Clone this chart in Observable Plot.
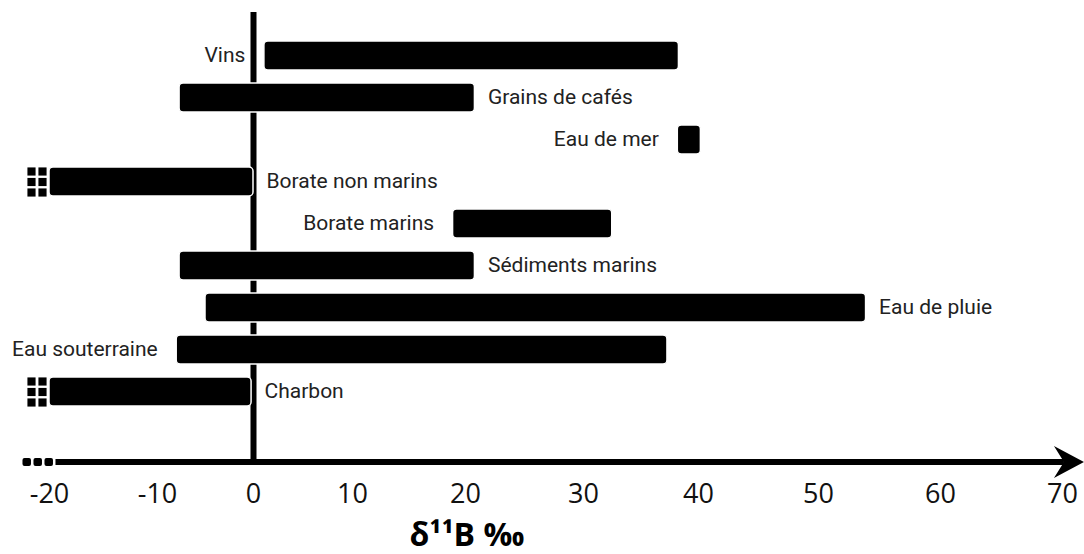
<!DOCTYPE html>
<html>
<head>
<meta charset="utf-8">
<script src="https://cdn.jsdelivr.net/npm/d3@7"></script>
<script src="https://cdn.jsdelivr.net/npm/@observablehq/plot@0.6"></script>
<style>
  html, body { margin: 0; padding: 0; background: #fff; }
  #chart svg { display: block; }
</style>
</head>
<body>
<div id="chart"></div>
<script>
// ---- data ----
const categories = ["Vins", "Grains de cafés", "Eau de mer", "Borate non marins", "Borate marins",
  "Sédiments marins", "Eau de pluie", "Eau souterraine", "Charbon"];
const minValues = [1.1, -7.7, 38.2, -20, 18.9, -7.7, -5.0, -8.0, -20];
const maxValues = [38.3, 20.8, 40.2, 0, 32.5, 20.8, 53.9, 37.3, -0.2];
const labelSides = ["left", "right", "left", "right", "left", "right", "right", "left", "right"];
const extendsBeyond = [false, false, false, true, false, false, false, false, true];
const tickValues = [-20, -10, 0, 10, 20, 30, 40, 50, 60, 70];
const tickPixels = [49, 157, 253, 352, 465, 583, 698, 818, 940, 1062]; // hand-placed axis labels in the original
const axisLabel = "δ¹¹B ‰";
const axisFrom = -19.4, axisTo = 71.8;

const rows = categories.map((c, i) => ({
  cat: c, lo: minValues[i], hi: maxValues[i], side: labelSides[i], open: extendsBeyond[i]
}));
const openRows = rows.filter(d => d.open);

const labelFont = "Roboto, 'Liberation Sans', sans-serif";

function axisArrow(index, scales, values, dims) {
  const x = scales.x;
  const g = d3.create("svg:g");
  const y0 = dims.height - dims.marginBottom;
  const xs = x(axisFrom), xe = x(axisTo);
  g.append("line")
    .attr("x1", xs).attr("x2", xe - 20)
    .attr("y1", y0).attr("y2", y0)
    .attr("stroke", "black").attr("stroke-width", 6);
  g.append("path")
    .attr("d", `M${xe},${y0} L${xe - 30},${y0 - 16} L${xe - 20},${y0} L${xe - 30},${y0 + 16} Z`)
    .attr("fill", "black");
  [-29, -18, -7].forEach(o => {
    g.append("rect")
      .attr("x", xs + o - 4).attr("y", y0 - 4)
      .attr("width", 8.5).attr("height", 8)
      .attr("rx", 2).attr("fill", "black");
  });
  return g.node();
}

const squareOffsets = [];
[-18, -7].forEach(dx => [-10.5, 0, 10.5].forEach(dy => squareOffsets.push([dx, dy])));

const chart = Plot.plot({
  width: 1084,
  height: 554,
  marginTop: 12,
  marginBottom: 92,
  marginLeft: 55,
  marginRight: 12,
  style: { background: "#fff", color: "#000" },
  x: { type: "linear", domain: tickValues, range: tickPixels, axis: null },
  y: { type: "band", domain: categories, range: [24.6, 422.4], padding: 0.3, axis: null },
  marks: [
    Plot.ruleX([0], { stroke: "black", strokeWidth: 6 }),
    Plot.barX(rows, {
      x1: "lo", x2: "hi", y: "cat",
      fill: "black", stroke: "white", strokeWidth: 1.5, rx: 4
    }),
    ...squareOffsets.map(([dx, dy]) => Plot.dot(openRows, {
      x: "lo", y: "cat", dx, dy, symbol: "square", r: 4.6, fill: "black", stroke: null
    })),
    Plot.text(rows.filter(d => d.side === "right"), {
      x: "hi", y: "cat", text: "cat", textAnchor: "start", dx: 13, dy: -1,
      fontFamily: labelFont, fontSize: 21, fill: "#222"
    }),
    Plot.text(rows.filter(d => d.side === "left"), {
      x: "lo", y: "cat", text: "cat", textAnchor: "end", dx: -19, dy: -1,
      fontFamily: labelFont, fontSize: 21, fill: "#222"
    }),
    axisArrow,
    Plot.text(tickValues, {
      x: d => d, frameAnchor: "bottom", dy: 40, text: d => String(d),
      fontFamily: "'Open Sans', sans-serif", fontSize: 27, fill: "#111"
    }),
    Plot.text([axisLabel], {
      frameAnchor: "bottom-left", dx: 354, dy: 83, text: d => d, textAnchor: "start",
      fontFamily: "'Open Sans', sans-serif", fontSize: 32, fontWeight: "bold", fill: "#000"
    })
  ]
});
document.getElementById("chart").appendChild(chart);
</script>
</body>
</html>
